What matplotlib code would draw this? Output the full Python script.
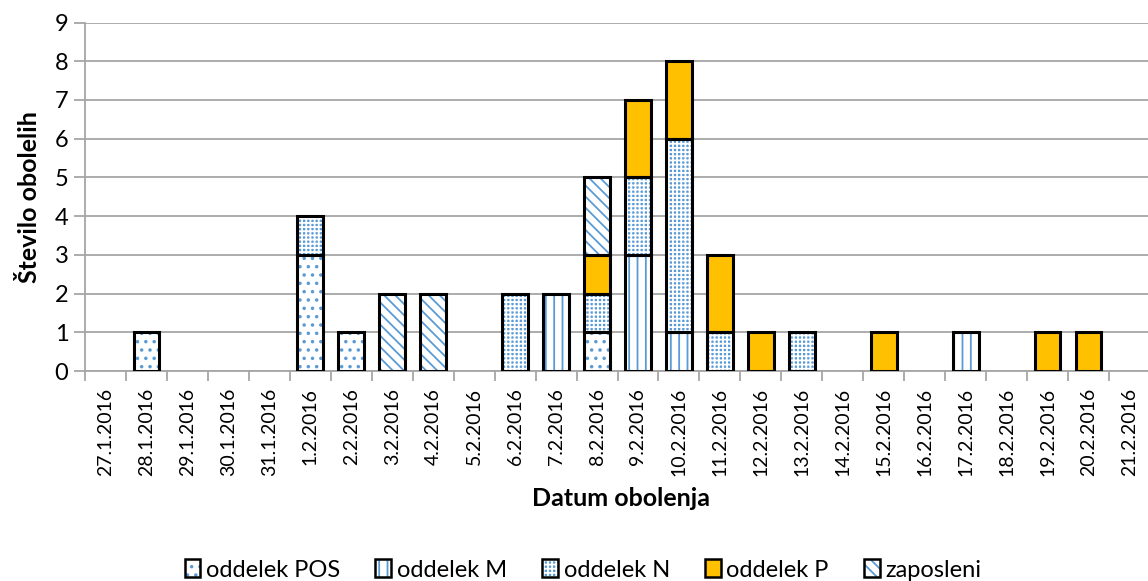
import numpy as np
import matplotlib.pyplot as plt
from matplotlib.patches import Patch
from matplotlib.legend_handler import HandlerTuple

plt.rcParams['font.family'] = ['Lato', 'DejaVu Sans']
plt.rcParams['hatch.linewidth'] = 1.3

dates = ['27.1.2016', '28.1.2016', '29.1.2016', '30.1.2016', '31.1.2016',
         '1.2.2016', '2.2.2016', '3.2.2016', '4.2.2016', '5.2.2016',
         '6.2.2016', '7.2.2016', '8.2.2016', '9.2.2016', '10.2.2016',
         '11.2.2016', '12.2.2016', '13.2.2016', '14.2.2016', '15.2.2016',
         '16.2.2016', '17.2.2016', '18.2.2016', '19.2.2016', '20.2.2016',
         '21.2.2016']

pos       = [0, 1, 0, 0, 0, 3, 1, 0, 0, 0, 0, 0, 1, 0, 0, 0, 0, 0, 0, 0, 0, 0, 0, 0, 0, 0]
odd_m     = [0, 0, 0, 0, 0, 0, 0, 0, 0, 0, 0, 2, 0, 3, 1, 0, 0, 0, 0, 0, 0, 1, 0, 0, 0, 0]
odd_n     = [0, 0, 0, 0, 0, 1, 0, 0, 0, 0, 2, 0, 1, 2, 5, 1, 0, 1, 0, 0, 0, 0, 0, 0, 0, 0]
odd_p     = [0, 0, 0, 0, 0, 0, 0, 0, 0, 0, 0, 0, 1, 2, 2, 2, 1, 0, 0, 1, 0, 0, 0, 1, 1, 0]
zaposleni = [0, 0, 0, 0, 0, 0, 0, 2, 2, 0, 0, 0, 2, 0, 0, 0, 0, 0, 0, 0, 0, 0, 0, 0, 0, 0]

names = ['oddelek POS', 'oddelek M', 'oddelek N', 'oddelek P', 'zaposleni']
series = [pos, odd_m, odd_n, odd_p, zaposleni]

blue = '#5B9BD5'
# (face, hatch, hatch colour)
styles = [('white', '..', blue),
          ('white', '||', blue),
          ('#5B9BD5', '++++', 'white'),
          ('#FFC000', '', '#FFC000'),
          ('white', '\\\\\\', blue)]

fig = plt.figure(figsize=(11.48, 5.81), dpi=100)
ax = fig.add_axes([85 / 1148, 210 / 581, 1065 / 1148, 348.5 / 581])

x = np.arange(len(dates))
w = 0.63
bottom = np.zeros(len(dates))
handles = []
for vals, (fc, htc, hc), name in zip(series, styles, names):
    vals = np.array(vals, dtype=float)
    m = vals > 0
    ax.bar(x[m], vals[m], w, bottom=bottom[m], color=fc, hatch=htc,
           edgecolor=hc, linewidth=0, zorder=3)
    ax.bar(x[m], vals[m], w, bottom=bottom[m], fill=False,
           edgecolor='black', linewidth=2.2, zorder=4)
    bottom += vals
    handles.append((Patch(facecolor=fc, hatch=htc, edgecolor=hc, linewidth=0),
                    Patch(fill=False, edgecolor='black', linewidth=1.8)))

ax.set_xlim(-0.5, len(dates) - 0.5)
ax.set_ylim(0, 9)
ax.set_yticks(range(10))
ax.grid(axis='y', color='#A6A6A6', linewidth=1.3, zorder=0)
ax.set_axisbelow(True)

ax.set_xticks(x)
ax.set_xticklabels(dates, rotation=90, fontsize=14)
ax.set_xticks(np.arange(len(dates) + 1) - 0.5, minor=True)
ax.tick_params(axis='x', which='major', length=0, pad=12)
ax.tick_params(axis='x', which='minor', length=7, color='#A6A6A6', width=1.3)
ax.tick_params(axis='y', labelsize=17, length=8, color='#A6A6A6', width=1.3, pad=4)

for s in ['top', 'right']:
    ax.spines[s].set_visible(False)
for s in ['left', 'bottom']:
    ax.spines[s].set_color('#A6A6A6')
    ax.spines[s].set_linewidth(1.3)

ax.set_ylabel('Število obolelih', fontsize=18, fontweight='bold', labelpad=10)
fig.text(621 / 1148, 1 - 498 / 581, 'Datum obolenja', fontsize=18,
         fontweight='bold', ha='center', va='center')

fig.legend(handles, names, handler_map={tuple: HandlerTuple(ndivide=1)},
           loc='center', bbox_to_anchor=(583 / 1148, 1 - 570 / 581), ncol=5,
           frameon=False, fontsize=17, handlelength=0.65, handleheight=0.8,
           handletextpad=0.25, columnspacing=1.5, borderaxespad=0)

fig.savefig('out.png', dpi=100)
